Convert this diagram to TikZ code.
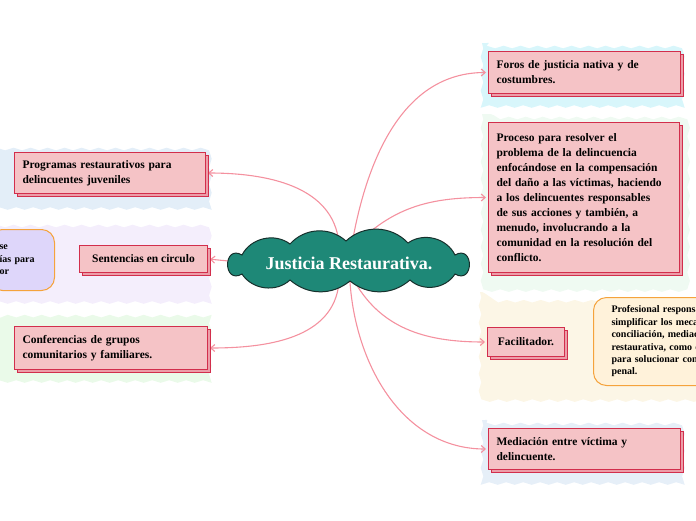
\documentclass[tikz,border=0pt]{standalone}
\usepackage{fontspec}
\setmainfont{Liberation Serif}
\usetikzlibrary{arrows.meta, positioning, shadows, backgrounds, decorations.pathmorphing}

\definecolor{topicfill}{HTML}{F5C3C6}
\definecolor{topicline}{HTML}{D22E4C}
\definecolor{shadowpink}{HTML}{EC9DA8}
\definecolor{linkpink}{HTML}{F4919F}
\definecolor{rootfill}{HTML}{1E8877}
\definecolor{rootline}{HTML}{17302C}
\definecolor{noteline}{HTML}{F5A33C}
\definecolor{notecream}{HTML}{FFF2DA}
\definecolor{notelilac}{HTML}{DED6FA}
\definecolor{washcyan}{HTML}{D8F6FB}
\definecolor{washmint}{HTML}{EFFAF2}
\definecolor{washcream}{HTML}{FCF6E6}
\definecolor{washblue}{HTML}{E6EFF8}
\definecolor{washsky}{HTML}{E3EEF8}
\definecolor{washlilac}{HTML}{F4EEFC}
\definecolor{washgreen}{HTML}{EAFAE9}

\begin{document}
\begin{tikzpicture}[
    x=1pt, y=-1pt,
    root/.style={rectangle, minimum width=200pt, minimum height=38pt, inner sep=0pt,
                 text=white, font=\fontsize{18}{20}\selectfont\bfseries},
    puff/.style={draw=rootline, line width=1pt, fill=rootfill},
    topic/.style={rectangle, draw=topicline, line width=1pt, fill=topicfill,
                  anchor=north west, align=left, inner xsep=8pt, inner ysep=0pt,
                  font=\fontsize{11.5}{15}\selectfont\bfseries,
                  copy shadow={shadow xshift=3pt, shadow yshift=-3pt,
                               fill=shadowpink, draw=topicline}},
    note/.style={rectangle, rounded corners=13pt, draw=noteline, line width=1pt,
                 align=left, inner ysep=0pt,
                 font=\fontsize{10}{12.4}\selectfont\bfseries},
    wash/.style={decorate, decoration={snake, amplitude=1.3pt, segment length=17pt}},
    link/.style={draw=linkpink, line width=1.1pt, shorten >=2pt,
                 -{Straight Barb[length=4pt, width=7pt]}}
]
\useasboundingbox (0,0) rectangle (696,520);

\node[root] (justicia) at (349,263) {Justicia Restaurativa.};

% right side
\node[topic, text width=176pt, minimum height=42pt] (foros) at (488,51)
    {Foros de justicia nativa y de\\costumbres.};
\node[topic, text width=175pt, minimum height=150pt] (proceso) at (488,122)
    {Proceso para resolver el\\problema de la delincuencia\\enfocándose en la compensación\\del daño a las víctimas, haciendo\\a los delincuentes responsables\\de sus acciones y también, a\\menudo, involucrando a la\\comunidad en la resolución del\\conflicto.};
\node[topic, minimum width=77pt, minimum height=29pt] (facilitador) at (487,327)
    {Facilitador.};
\node[note, fill=notecream, anchor=north west, inner xsep=18pt,
      text width=200pt, minimum height=88pt] (facilnote) at (593,297)
    {Profesional responsable de\\simplificar los mecanismos de\\conciliación, mediación y justicia\\restaurativa, como opción\\para solucionar conflictos\\penal.};
\node[topic, text width=176pt, minimum height=41pt] (mediacion) at (488,428)
    {Mediación entre víctima y\\delincuente.};

% left side
\node[topic, text width=175pt, minimum height=41pt] (programas) at (14,152)
    {Programas restaurativos para\\delincuentes juveniles};
\node[topic, minimum width=128pt, minimum height=27pt] (sentencias) at (79,245)
    {Sentencias en circulo};
\node[note, fill=notelilac, anchor=north east, inner xsep=10pt,
      text width=45pt, minimum height=61pt] (sentnote) at (55,229)
    {se\\ías para\\or};
\node[topic, text width=177pt, minimum height=43pt] (conferencias) at (14,326)
    {Conferencias de grupos\\comunitarios y familiares.};

\begin{scope}[on background layer]
    \fill[wash, fill=washcyan]  (482,43) rectangle (690,102);
    \fill[wash, fill=washmint]  (482,114) rectangle (690,281);
    \fill[wash, fill=washcream] (480,292) rectangle (705,396);
    \fill[wash, fill=washblue]  (482,420) rectangle (690,478);
    \fill[wash, fill=washsky]   (-8,145) rectangle (216,205);
    \fill[wash, fill=washlilac] (-8,222) rectangle (215,298);
    \fill[wash, fill=washgreen] (-8,318) rectangle (215,380);

    \draw[link] ([xshift=3pt]justicia.north) to[out=80, in=180] (foros.west);
    \draw[link] ([xshift=8pt]justicia.north) to[out=45, in=180] (proceso.west);
    \draw[link] ([xshift=6pt]justicia.south) to[out=-60, in=180] (facilitador.west);
    \draw[link] ([xshift=1pt]justicia.south) to[out=-86, in=180] (mediacion.west);
    \draw[link] ([xshift=-10pt]justicia.north) to[out=95, in=0] (programas.east);
    \draw[link] (justicia.west) -- (sentencias.east);
    \draw[link] ([xshift=-10pt]justicia.south) to[out=-95, in=0] (conferencias.east);

    % cloud round the central topic
    \filldraw[puff] (242,255) to[bend left=50] (290,244) to[bend left=45] (346,241)
        to[bend left=45] (408,243) to[bend left=50] (455,255)
        to[out=30, in=-30, looseness=3] (455,274)
        to[bend left=50] (410,280) to[bend left=40] (350,281)
        to[bend left=40] (290,280) to[bend left=50] (242,274)
        to[out=210, in=150, looseness=3] cycle;
\end{scope}
\end{tikzpicture}
\end{document}
